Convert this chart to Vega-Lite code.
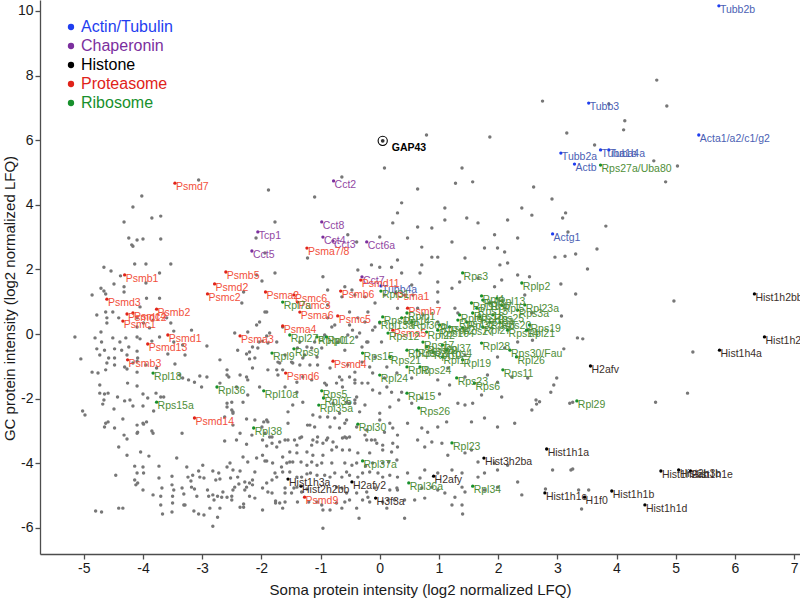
{
"$schema": "https://vega.github.io/schema/vega-lite/v6.json",
"width": 760, "height": 554,
"autosize": {"type": "none"},
"padding": {"left": 40, "top": 0, "right": 0, "bottom": 44},
"background": "white",
"config": {"view": {"stroke": null}, "font": "Liberation Sans"},
"datasets": {
"gray": [
{"x":-4.02,"y":4.27},{"x":-3.06,"y":4.77},{"x":-1.88,"y":4.46},{"x":0.79,"y":6.16},{"x":1.86,"y":6.10},{"x":0.08,"y":5.14},{"x":1.39,"y":5.14},{"x":-0.64,"y":4.86},{"x":1.28,"y":4.67},{"x":1.57,"y":4.71},{"x":0.64,"y":4.49},{"x":-1.10,"y":4.24},{"x":2.60,"y":4.55},{"x":4.68,"y":7.86},{"x":2.75,"y":7.21},{"x":3.87,"y":7.12},{"x":4.85,"y":7.06},{"x":4.14,"y":6.60},{"x":4.12,"y":6.32},{"x":3.16,"y":6.22},{"x":3.63,"y":5.85},{"x":4.63,"y":5.36},{"x":5.03,"y":5.20},{"x":4.83,"y":4.71},{"x":2.91,"y":4.18},
{"x":3.14,"y":3.75},{"x":3.09,"y":3.59},{"x":3.82,"y":3.34},{"x":3.18,"y":3.16},{"x":2.96,"y":2.38},{"x":3.13,"y":2.41},{"x":3.31,"y":2.48},{"x":3.67,"y":2.63},{"x":3.51,"y":2.01},{"x":3.06,"y":1.55},{"x":3.31,"y":1.24},{"x":4.97,"y":1.02},{"x":3.07,"y":0.56},{"x":3.34,"y":-0.12},{"x":3.43,"y":-0.15},{"x":2.58,"y":-0.19},{"x":3.11,"y":-0.46},{"x":5.29,"y":-0.56},{"x":2.99,"y":-1.36},{"x":2.94,"y":-1.58},{"x":2.89,"y":-1.80},{"x":5.20,"y":-1.83},
{"x":2.64,"y":-2.04},{"x":2.65,"y":-2.17},{"x":2.70,"y":-2.10},{"x":3.21,"y":-2.14},{"x":3.26,"y":-2.11},{"x":4.66,"y":-2.11},{"x":2.92,"y":-4.21},{"x":3.23,"y":-4.21},{"x":3.26,"y":-4.18},{"x":2.80,"y":-4.80},{"x":3.36,"y":-4.83},{"x":3.53,"y":-4.83},{"x":3.41,"y":-5.42},
{"x":-4.17,"y":3.93},{"x":-3.85,"y":3.59},{"x":-3.70,"y":3.65},{"x":-4.32,"y":3.47},{"x":-4.24,"y":2.97},{"x":-4.19,"y":2.76},{"x":-4.17,"y":2.72},{"x":-4.10,"y":2.91},{"x":-4.00,"y":2.94},{"x":-3.70,"y":2.94},{"x":-4.14,"y":2.17},{"x":-3.95,"y":2.17},{"x":-3.72,"y":1.89},{"x":-3.53,"y":2.17},{"x":-4.66,"y":2.07},{"x":-4.54,"y":1.95},{"x":-4.38,"y":1.80},{"x":-4.49,"y":1.55},{"x":-4.32,"y":1.46},{"x":-4.86,"y":1.21},{"x":-4.71,"y":1.42},{"x":-4.66,"y":1.33},{"x":-4.63,"y":1.24},{"x":-4.32,"y":1.30},{"x":-3.95,"y":1.58},{"x":-3.94,"y":1.11},{"x":-3.72,"y":1.11},{"x":-4.05,"y":0.84},{"x":-4.51,"y":0.68},{"x":-4.78,"y":0.59},{"x":-4.63,"y":0.68},{"x":-4.61,"y":0.50},{"x":-4.41,"y":0.50},{"x":-4.10,"y":0.50},{"x":-3.99,"y":0.34},{"x":-3.83,"y":0.43},{"x":-3.60,"y":0.50},{"x":-4.61,"y":0.34},{"x":-4.71,"y":0.06},{"x":-4.10,"y":0.22},{"x":-3.89,"y":0.19},{"x":-3.53,"y":0.34},{"x":-3.48,"y":0.09},{"x":-3.18,"y":0.12},{"x":-5.15,"y":-0.09},{"x":-4.81,"y":-0.12},{"x":-4.70,"y":-0.25},{"x":-4.51,"y":-0.12},{"x":-4.39,"y":-0.25},{"x":-4.29,"y":-0.12},{"x":-4.10,"y":-0.09},{"x":-4.05,"y":-0.15},{"x":-3.85,"y":-0.22},{"x":-3.72,"y":-0.09},{"x":-3.48,"y":-0.25},{"x":-3.33,"y":-0.34},{"x":-4.78,"y":-0.46},{"x":-4.65,"y":-0.50},{"x":-4.48,"y":-0.46},{"x":-4.36,"y":-0.50},{"x":-4.24,"y":-0.40},{"x":-4.10,"y":-0.53},{"x":-4.48,"y":-0.74},{"x":-4.58,"y":-0.74},{"x":-4.73,"y":-0.65},{"x":-4.27,"y":-0.65},{"x":-5.05,"y":-0.77},{"x":-4.09,"y":-0.74},{"x":-3.58,"y":-0.62},{"x":-2.92,"y":-0.37},{"x":-3.29,"y":-0.65},{"x":-4.61,"y":-0.90},{"x":-4.48,"y":-0.96},{"x":-4.31,"y":-1.02},{"x":-4.17,"y":-0.90},{"x":-4.10,"y":-0.84},{"x":-3.95,"y":-0.96},{"x":-3.77,"y":-1.05},{"x":-3.46,"y":-0.93},{"x":-3.04,"y":-1.30},{"x":-4.86,"y":-1.18},{"x":-4.76,"y":-1.21},{"x":-4.63,"y":-1.11},{"x":-4.27,"y":-1.08},{"x":-4.10,"y":-1.18},{"x":-3.38,"y":-1.27},{"x":-3.33,"y":-1.36},{"x":-3.23,"y":-1.42},{"x":-3.13,"y":-1.49},{"x":-4.73,"y":-1.58},{"x":-4.26,"y":-1.52},{"x":-4.10,"y":-1.61},{"x":-2.55,"y":-1.33},{"x":-2.36,"y":-1.27},{"x":-2.25,"y":-1.33},{"x":-2.15,"y":-1.05},{"x":-2.11,"y":-0.74},{"x":-2.25,"y":-0.62},{"x":-2.40,"y":-0.50},{"x":-2.45,"y":0.03},{"x":-2.23,"y":0.06},{"x":-2.04,"y":-0.25},{"x":-1.91,"y":-0.06},{"x":-1.94,"y":0.68},{"x":-2.03,"y":0.37},{"x":-2.33,"y":0.96},{"x":-2.30,"y":1.30},{"x":-2.08,"y":1.83},{"x":-1.99,"y":1.64},{"x":-2.09,"y":2.97},{"x":-1.94,"y":2.51},
{"x":-4.73,"y":-1.83},{"x":-4.65,"y":-1.86},{"x":-4.59,"y":-1.83},{"x":-4.66,"y":-2.04},{"x":-4.68,"y":-2.17},{"x":-4.43,"y":-1.95},{"x":-4.31,"y":-2.07},{"x":-4.22,"y":-2.04},{"x":-4.17,"y":-2.23},{"x":-4.00,"y":-1.86},{"x":-4.00,"y":-2.23},{"x":-3.92,"y":-1.98},{"x":-3.82,"y":-2.38},{"x":-3.78,"y":-1.83},{"x":-3.70,"y":-1.95},{"x":-3.65,"y":-1.95},{"x":-5.02,"y":-2.38},{"x":-4.98,"y":-2.51},{"x":-4.49,"y":-2.32},{"x":-4.34,"y":-2.63},{"x":-4.59,"y":-2.72},{"x":-4.65,"y":-2.88},{"x":-4.63,"y":-2.76},{"x":-4.48,"y":-2.91},{"x":-4.41,"y":-3.50},{"x":-4.32,"y":-3.13},{"x":-4.27,"y":-3.25},{"x":-4.27,"y":-3.75},{"x":-4.10,"y":-2.82},{"x":-4.10,"y":-3.07},{"x":-4.09,"y":-3.04},{"x":-4.00,"y":-2.76},{"x":-3.99,"y":-2.79},{"x":-3.94,"y":-2.72},{"x":-3.85,"y":-3.00},{"x":-3.83,"y":-3.07},{"x":-3.34,"y":-3.07},{"x":-4.04,"y":-3.65},{"x":-3.90,"y":-3.78},{"x":-4.14,"y":-4.09},{"x":-4.10,"y":-4.30},{"x":-4.00,"y":-4.12},{"x":-3.99,"y":-4.30},{"x":-4.14,"y":-4.52},{"x":-4.09,"y":-4.61},{"x":-4.12,"y":-4.67},{"x":-4.00,"y":-4.83},{"x":-4.46,"y":-4.37},{"x":-3.73,"y":-4.09},{"x":-3.73,"y":-4.46},{"x":-3.68,"y":-4.77},{"x":-3.83,"y":-4.98},{"x":-3.43,"y":-3.84},{"x":-3.51,"y":-4.40},{"x":-3.51,"y":-4.67},{"x":-3.48,"y":-4.83},{"x":-3.50,"y":-5.02},{"x":-3.50,"y":-5.23},{"x":-3.34,"y":-4.77},{"x":-3.31,"y":-4.95},{"x":-3.31,"y":-5.29},{"x":-3.24,"y":-4.43},{"x":-3.19,"y":-4.55},{"x":-3.16,"y":-4.37},{"x":-3.13,"y":-4.80},{"x":-3.09,"y":-5.02},{"x":-3.04,"y":-4.43},{"x":-3.06,"y":-4.24},{"x":-2.99,"y":-4.06},{"x":-3.26,"y":-4.12},{"x":-3.18,"y":-4.74},{"x":-3.70,"y":-5.02},{"x":-3.70,"y":-5.29},{"x":-3.51,"y":-5.51},{"x":-3.67,"y":-5.57},{"x":-3.29,"y":-5.29},{"x":-3.14,"y":-5.48},{"x":-3.06,"y":-5.57},{"x":-2.97,"y":-5.60},{"x":-2.91,"y":-4.83},{"x":-2.89,"y":-5.02},{"x":-2.97,"y":-4.46},{"x":-2.82,"y":-4.24},{"x":-2.72,"y":-4.30},{"x":-2.77,"y":-4.52},{"x":-2.82,"y":-4.98},{"x":-2.74,"y":-5.02},{"x":-2.65,"y":-4.89},{"x":-2.67,"y":-5.05},{"x":-2.58,"y":-5.05},{"x":-2.50,"y":-5.02},{"x":-2.48,"y":-4.83},{"x":-2.45,"y":-4.74},{"x":-2.52,"y":-4.46},{"x":-2.40,"y":-4.43},{"x":-2.38,"y":-4.64},{"x":-2.28,"y":-4.58},{"x":-2.25,"y":-4.74},{"x":-2.20,"y":-4.61},{"x":-2.15,"y":-4.52},{"x":-2.11,"y":-4.27},{"x":-2.23,"y":-3.96},{"x":-2.36,"y":-4.24},{"x":-2.48,"y":-4.21},{"x":-2.53,"y":-3.99},{"x":-2.58,"y":-4.12},{"x":-2.70,"y":-4.49},{"x":-2.80,"y":-5.14},{"x":-2.70,"y":-5.39},{"x":-2.50,"y":-5.14},{"x":-2.36,"y":-5.36},{"x":-2.30,"y":-5.36},{"x":-2.28,"y":-4.83},{"x":-2.20,"y":-5.02},{"x":-2.11,"y":-5.08},{"x":-2.15,"y":-4.67},{"x":-2.87,"y":-5.39},{"x":-2.74,"y":-5.67},{"x":-2.82,"y":-5.95},{"x":-4.80,"y":-5.48},{"x":-4.70,"y":-5.51},{"x":-4.41,"y":-5.39},{"x":-4.34,"y":-5.39},{"x":-2.58,"y":-2.14},{"x":-2.48,"y":-2.45},{"x":-2.48,"y":-2.82},{"x":-2.25,"y":-2.63},{"x":-2.11,"y":-2.66},{"x":-1.96,"y":-2.72},{"x":-1.94,"y":-3.07},{"x":-2.16,"y":-3.13},{"x":-2.42,"y":-3.28},{"x":-2.62,"y":-3.31},{"x":-2.25,"y":-3.41},{"x":-1.98,"y":-3.28},{"x":-1.91,"y":-3.47},{"x":-1.98,"y":-3.75},{"x":-2.08,"y":-3.84},{"x":-1.91,"y":-3.93},{"x":-2.30,"y":-5.26},{"x":-1.98,"y":-5.45},{"x":-2.62,"y":-2.57},{"x":-2.31,"y":-3.81},
{"x":-1.82,"y":-3.38},{"x":-1.94,"y":-3.93},{"x":-1.81,"y":-3.99},{"x":-1.66,"y":-4.12},{"x":-1.57,"y":-3.99},{"x":-1.52,"y":-3.96},{"x":-1.52,"y":-4.27},{"x":-1.64,"y":-4.27},{"x":-1.77,"y":-4.30},{"x":-1.74,"y":-4.43},{"x":-1.82,"y":-4.52},{"x":-1.91,"y":-4.61},{"x":-1.98,"y":-4.77},{"x":-1.89,"y":-4.89},{"x":-1.82,"y":-4.92},{"x":-1.76,"y":-5.17},{"x":-1.76,"y":-5.23},{"x":-1.69,"y":-5.23},{"x":-1.60,"y":-4.92},{"x":-1.60,"y":-5.20},{"x":-1.64,"y":-5.39},{"x":-1.60,"y":-4.77},{"x":-1.45,"y":-4.77},{"x":-1.49,"y":-4.92},{"x":-1.40,"y":-4.74},{"x":-1.32,"y":-4.89},{"x":-1.23,"y":-4.80},{"x":-1.39,"y":-5.20},{"x":-1.20,"y":-5.20},{"x":-1.06,"y":-5.20},{"x":-0.98,"y":-5.29},{"x":-0.96,"y":-5.45},{"x":-0.96,"y":-6.01},{"x":-0.84,"y":-5.45},{"x":-0.73,"y":-5.23},{"x":-0.64,"y":-5.39},{"x":-0.59,"y":-5.20},{"x":-0.51,"y":-5.14},{"x":-0.35,"y":-5.70},{"x":-0.39,"y":-5.39},{"x":-0.29,"y":-5.14},{"x":-0.20,"y":-5.05},{"x":-0.17,"y":-5.20},{"x":0.05,"y":-5.20},{"x":0.14,"y":-5.14},{"x":0.25,"y":-5.14},{"x":0.12,"y":-5.39},{"x":-1.40,"y":-4.43},{"x":-1.32,"y":-4.43},{"x":-1.23,"y":-4.33},{"x":-1.17,"y":-4.30},{"x":-1.06,"y":-4.37},{"x":-0.93,"y":-4.37},{"x":-0.84,"y":-4.43},{"x":-0.76,"y":-4.30},{"x":-0.64,"y":-4.43},{"x":-0.56,"y":-4.27},{"x":-0.51,"y":-4.37},{"x":-0.37,"y":-4.43},{"x":-0.29,"y":-4.30},{"x":-0.17,"y":-4.27},{"x":-0.03,"y":-4.30},{"x":0.05,"y":-4.43},{"x":0.17,"y":-4.37},{"x":0.30,"y":-4.43},{"x":-0.73,"y":-4.74},{"x":-0.64,"y":-4.77},{"x":-0.56,"y":-4.92},{"x":-0.39,"y":-4.92},{"x":-0.22,"y":-4.89},{"x":-0.08,"y":-4.77},{"x":0.17,"y":-4.83},{"x":0.29,"y":-4.77},{"x":-1.47,"y":-3.96},{"x":-1.33,"y":-3.96},{"x":-1.23,"y":-4.06},{"x":-1.15,"y":-3.96},{"x":-1.06,"y":-4.06},{"x":-0.98,"y":-3.99},{"x":-0.81,"y":-3.99},{"x":-0.59,"y":-3.99},{"x":-0.47,"y":-4.06},{"x":-0.39,"y":-3.99},{"x":-0.24,"y":-4.09},{"x":-0.12,"y":-3.99},{"x":0.05,"y":-3.99},{"x":0.15,"y":-3.96},{"x":0.29,"y":-3.90},{"x":-1.64,"y":-3.81},{"x":-1.52,"y":-3.65},{"x":-1.40,"y":-3.68},{"x":-1.23,"y":-3.65},{"x":-1.13,"y":-3.75},{"x":-0.96,"y":-3.75},{"x":-0.81,"y":-3.59},{"x":-0.73,"y":-3.50},{"x":-0.63,"y":-3.59},{"x":-0.51,"y":-3.59},{"x":-0.37,"y":-3.68},{"x":-0.17,"y":-3.68},{"x":0.05,"y":-3.59},{"x":0.20,"y":-3.65},{"x":0.30,"y":-3.50},{"x":-1.69,"y":-3.34},{"x":-1.55,"y":-3.28},{"x":-1.32,"y":-3.19},{"x":-1.15,"y":-3.44},{"x":-1.06,"y":-3.34},{"x":-0.96,"y":-3.38},{"x":-0.79,"y":-3.34},{"x":-0.63,"y":-3.22},{"x":-0.51,"y":-3.19},{"x":-0.22,"y":-3.28},{"x":-0.05,"y":-3.38},{"x":0.05,"y":-3.44},{"x":0.22,"y":-3.38},{"x":-1.40,"y":-3.44},
{"x":0.37,"y":-1.80},{"x":0.54,"y":-2.14},{"x":0.71,"y":-1.98},{"x":1.01,"y":-1.86},{"x":1.32,"y":-2.14},{"x":1.44,"y":-2.20},{"x":1.57,"y":-2.14},{"x":2.06,"y":-1.95},{"x":1.72,"y":-1.89},{"x":0.47,"y":-2.76},{"x":0.71,"y":-2.91},{"x":0.81,"y":-3.04},{"x":0.98,"y":-2.88},{"x":1.13,"y":-2.72},{"x":1.55,"y":-2.72},{"x":1.77,"y":-2.60},{"x":1.99,"y":-2.88},{"x":2.28,"y":-2.76},{"x":2.57,"y":-2.35},{"x":0.64,"y":-3.28},{"x":0.76,"y":-3.50},{"x":0.88,"y":-3.34},{"x":1.05,"y":-3.38},{"x":1.15,"y":-3.75},{"x":1.44,"y":-3.68},{"x":1.55,"y":-3.59},{"x":1.66,"y":-3.96},{"x":1.94,"y":-3.99},{"x":1.99,"y":-4.21},{"x":2.16,"y":-4.06},{"x":2.33,"y":-4.58},{"x":1.77,"y":-4.30},{"x":1.66,"y":-4.43},{"x":1.39,"y":-4.30},{"x":1.22,"y":-4.21},{"x":0.98,"y":-4.30},{"x":0.76,"y":-4.21},{"x":0.68,"y":-4.46},{"x":0.71,"y":-4.77},{"x":0.88,"y":-4.74},{"x":0.98,"y":-4.83},{"x":1.10,"y":-4.92},{"x":1.39,"y":-4.74},{"x":1.44,"y":-4.89},{"x":1.27,"y":-5.05},{"x":1.39,"y":-5.29},{"x":1.22,"y":-5.29},{"x":0.76,"y":-5.08},{"x":0.42,"y":-5.70},{"x":1.40,"y":-5.57},{"x":2.40,"y":-4.98},{"x":1.77,"y":-4.83},{"x":1.99,"y":-4.74},{"x":0.42,"y":-5.14},{"x":0.59,"y":-5.14},{"x":0.30,"y":-4.83},{"x":0.47,"y":-4.30},
{"x":-1.89,"y":-2.72},{"x":-1.82,"y":-3.19},{"x":-1.55,"y":-2.76},{"x":-1.30,"y":-2.11},{"x":-1.22,"y":-2.82},{"x":-1.13,"y":-2.51},{"x":-0.84,"y":-2.88},{"x":-0.76,"y":-2.60},{"x":-0.68,"y":-2.91},{"x":-0.59,"y":-2.76},{"x":-0.51,"y":-2.14},{"x":-0.42,"y":-2.04},{"x":-0.25,"y":-2.20},{"x":-0.25,"y":-3.13},{"x":-0.08,"y":-3.28},{"x":0.00,"y":-2.66},{"x":0.08,"y":-3.04},{"x":0.17,"y":-2.76},{"x":0.22,"y":-2.91},{"x":0.30,"y":-3.13},{"x":-1.05,"y":-3.19},{"x":-0.88,"y":-3.22},{"x":-0.59,"y":-3.19},{"x":-1.35,"y":-3.22},{"x":-1.60,"y":-3.28},{"x":0.20,"y":-1.80},
{"x":-2.20,"y":-0.56},{"x":-2.15,"y":-0.40},{"x":-2.06,"y":-0.43},{"x":-1.98,"y":-0.22},{"x":-1.86,"y":0.03},{"x":-1.35,"y":-0.25},{"x":-1.23,"y":-0.40},{"x":-1.15,"y":-0.43},{"x":-1.06,"y":-0.71},{"x":-1.30,"y":-0.74},{"x":-1.47,"y":-0.90},{"x":-1.35,"y":-0.96},{"x":-1.69,"y":-0.90},{"x":-1.74,"y":-1.11},{"x":-1.64,"y":-1.11},{"x":-2.23,"y":-1.42},{"x":-2.58,"y":-1.27},{"x":-2.70,"y":-1.52},{"x":-2.42,"y":-1.64},{"x":-2.50,"y":-2.11},{"x":-2.58,"y":-2.26},{"x":-2.48,"y":-2.41},{"x":-2.31,"y":-2.11},{"x":-2.23,"y":-1.89},{"x":-2.03,"y":-1.64},{"x":-1.60,"y":-1.64},{"x":-1.40,"y":-1.80},{"x":-1.47,"y":-2.20},{"x":-1.55,"y":-2.41},{"x":-1.91,"y":-2.66},{"x":-1.99,"y":-2.88},{"x":-1.18,"y":-2.82},{"x":-1.10,"y":-2.88},{"x":-2.36,"y":-3.07},{"x":-1.86,"y":-3.19},{"x":-1.74,"y":-3.50},{"x":-1.44,"y":-3.28},{"x":-1.01,"y":-2.57},{"x":-0.88,"y":-2.57},{"x":-0.79,"y":-2.14},{"x":-0.68,"y":-2.45},{"x":-0.56,"y":-2.11},{"x":-0.42,"y":-2.14},{"x":-0.34,"y":-2.41},{"x":-0.39,"y":-1.95},{"x":-0.63,"y":-1.64},{"x":-0.73,"y":-1.52},{"x":-0.90,"y":-1.58},{"x":-0.68,"y":-1.33},{"x":-0.51,"y":-1.33},{"x":-0.42,"y":-1.42},{"x":-0.30,"y":-1.52},{"x":-0.12,"y":-1.73},{"x":0.00,"y":-1.83},{"x":0.12,"y":-1.64},{"x":0.08,"y":-1.36},{"x":-0.12,"y":-1.21},{"x":-0.17,"y":-1.02},{"x":-0.08,"y":-0.71},{"x":0.12,"y":-1.02},{"x":0.29,"y":-1.21},{"x":0.32,"y":-2.04},{"x":0.17,"y":-2.26},{"x":0.00,"y":-2.45},{"x":-0.56,"y":-2.66},{"x":-0.39,"y":-2.88},{"x":-0.22,"y":-2.97},{"x":-0.14,"y":-3.28},{"x":-0.56,"y":-3.22},{"x":-0.90,"y":-3.28},{"x":-1.13,"y":-3.28},{"x":-0.76,"y":0.28},{"x":-0.51,"y":0.28},{"x":-0.46,"y":0.12},{"x":-0.34,"y":0.03},{"x":-0.22,"y":-0.25},{"x":-0.12,"y":0.12},{"x":0.00,"y":0.34},{"x":-2.08,"y":0.28},{"x":-1.64,"y":0.22},{"x":-2.92,"y":-1.33},{"x":-3.01,"y":-1.64},{"x":-2.70,"y":-0.80},{"x":-2.20,"y":-0.77},{"x":-2.58,"y":-1.11},{"x":-2.50,"y":-2.35},
{"x":0.37,"y":4.06},{"x":1.47,"y":3.59},{"x":0.30,"y":3.75},{"x":1.10,"y":3.90},{"x":-1.77,"y":3.47},{"x":0.22,"y":3.44},{"x":0.88,"y":3.28},{"x":0.00,"y":3.00},{"x":-0.39,"y":2.85},{"x":-0.54,"y":3.07},{"x":1.77,"y":2.66},{"x":0.98,"y":2.38},{"x":1.99,"y":2.66},{"x":0.30,"y":2.29},{"x":-0.14,"y":2.14},{"x":0.20,"y":2.07},{"x":0.00,"y":2.07},{"x":0.71,"y":2.14},{"x":0.88,"y":2.38},{"x":-1.22,"y":2.35},{"x":-1.77,"y":1.89},{"x":-0.96,"y":1.77},{"x":-0.37,"y":1.98},{"x":0.37,"y":1.89},{"x":0.68,"y":1.89},{"x":0.98,"y":1.61},{"x":0.54,"y":1.52},{"x":2.03,"y":2.14},{"x":2.16,"y":2.20},{"x":2.06,"y":1.67},{"x":1.94,"y":1.46},{"x":1.35,"y":1.61},{"x":1.66,"y":1.73},{"x":0.42,"y":1.21},{"x":0.98,"y":1.30},{"x":1.22,"y":1.42},{"x":-0.59,"y":1.46},{"x":-0.47,"y":1.36},{"x":-0.64,"y":1.15},{"x":-0.42,"y":1.21},{"x":-0.25,"y":1.15},{"x":0.08,"y":1.21},{"x":-0.88,"y":1.36},{"x":-0.88,"y":0.90},{"x":-0.08,"y":0.96},{"x":0.30,"y":0.80},{"x":0.56,"y":1.21},{"x":0.64,"y":0.80},{"x":0.98,"y":0.99},{"x":1.27,"y":0.80},{"x":-1.91,"y":0.68},{"x":-0.51,"y":0.68},{"x":-0.37,"y":0.50},{"x":-0.25,"y":0.37},{"x":-0.20,"y":0.68},{"x":0.73,"y":0.59},{"x":0.98,"y":0.37},{"x":1.32,"y":0.65},{"x":-0.88,"y":0.50},{"x":-0.81,"y":0.22},{"x":-0.54,"y":-0.03},{"x":-0.39,"y":-0.09},{"x":-0.08,"y":0.22},{"x":-0.20,"y":-0.25},{"x":0.03,"y":-0.25},{"x":-0.93,"y":-0.03},{"x":-1.10,"y":-0.25},{"x":-0.71,"y":-0.25},{"x":-0.98,"y":-0.43},{"x":-0.59,"y":-0.50},{"x":-0.30,"y":-0.40},{"x":-1.39,"y":-0.43},{"x":-1.27,"y":-0.65},{"x":-1.60,"y":-0.65},{"x":-1.74,"y":-0.25},{"x":-1.89,"y":-0.28},{"x":-1.72,"y":-0.87},{"x":-1.49,"y":-0.87},{"x":-1.18,"y":-0.96},{"x":-1.05,"y":-0.96},{"x":-0.84,"y":-1.05},{"x":-0.54,"y":-0.96},{"x":-0.42,"y":-1.18},{"x":-0.30,"y":-0.87},{"x":-1.89,"y":-1.11},{"x":-1.72,"y":-1.27},{"x":-1.40,"y":-1.49},{"x":-1.30,"y":-1.33},{"x":-1.15,"y":-1.42},{"x":-0.93,"y":-1.52},{"x":-0.64,"y":-1.42},{"x":-0.42,"y":-1.52},{"x":-0.20,"y":-1.52},{"x":0.54,"y":-1.36},{"x":0.98,"y":-1.42},{"x":1.18,"y":-1.58},{"x":1.44,"y":-1.33},{"x":1.82,"y":-1.27},{"x":1.99,"y":-1.49},{"x":2.23,"y":-1.33},{"x":2.50,"y":-1.36},{"x":1.44,"y":-0.65},{"x":1.15,"y":-1.05},{"x":1.99,"y":-0.71},{"x":2.11,"y":-0.43},{"x":2.33,"y":-0.25},{"x":2.50,"y":0.12},{"x":2.57,"y":0.65},{"x":2.45,"y":1.21},{"x":2.53,"y":1.77},{"x":2.33,"y":1.83},{"x":2.11,"y":2.54},{"x":2.33,"y":2.97},{"x":1.94,"y":3.07},{"x":2.57,"y":3.68},{"x":2.40,"y":3.90},{"x":2.16,"y":3.53},{"x":1.66,"y":3.44},{"x":1.10,"y":3.53},{"x":0.64,"y":3.31},{"x":0.47,"y":2.97},{"x":0.71,"y":2.69},{"x":1.22,"y":2.85},{"x":1.44,"y":2.35}
],
"labeled": [
{"gene":"Tubb2b","cat":"Actin/Tubulin","x":5.73,"y":10.16},
{"gene":"Tubb3","cat":"Actin/Tubulin","x":3.53,"y":7.15},
{"gene":"Acta1/a2/c1/g2","cat":"Actin/Tubulin","x":5.39,"y":6.16},
{"gene":"Tubb2a","cat":"Actin/Tubulin","x":3.06,"y":5.60},
{"gene":"Actb","cat":"Actin/Tubulin","x":3.29,"y":5.26},
{"gene":"Tuba1b","cat":"Actin/Tubulin","x":3.73,"y":5.70},
{"gene":"Tuba4a","cat":"Actin/Tubulin","x":3.87,"y":5.70},
{"gene":"Actg1","cat":"Actin/Tubulin","x":2.92,"y":3.10},
{"gene":"Tubb4a","cat":"Actin/Tubulin","x":0.02,"y":1.49},
{"gene":"Cct2","cat":"Chaperonin","x":-0.78,"y":4.74},
{"gene":"Tcp1","cat":"Chaperonin","x":-2.06,"y":3.16},
{"gene":"Cct5","cat":"Chaperonin","x":-2.16,"y":2.57},
{"gene":"Cct8","cat":"Chaperonin","x":-0.98,"y":3.47},
{"gene":"Cct4","cat":"Chaperonin","x":-0.96,"y":3.00},
{"gene":"Cct3","cat":"Chaperonin","x":-0.79,"y":2.88},
{"gene":"Cct6a","cat":"Chaperonin","x":-0.22,"y":2.85},
{"gene":"Cct7","cat":"Chaperonin","x":-0.30,"y":1.77},
{"gene":"Hist1h2bb","cat":"Histone","x":6.33,"y":1.24},
{"gene":"Hist1h2bc","cat":"Histone","x":6.50,"y":-0.09},
{"gene":"Hist1h4a","cat":"Histone","x":5.74,"y":-0.50},
{"gene":"H2afv","cat":"Histone","x":3.56,"y":-0.99},
{"gene":"Hist1h1a","cat":"Histone","x":2.82,"y":-3.56},
{"gene":"Hist1h2ab","cat":"Histone","x":4.75,"y":-4.24},
{"gene":"Hist2h3b","cat":"Histone","x":5.05,"y":-4.21},
{"gene":"Hist1h1e","cat":"Histone","x":5.25,"y":-4.24},
{"gene":"Hist1h1c","cat":"Histone","x":2.79,"y":-4.92},
{"gene":"H1f0","cat":"Histone","x":3.46,"y":-5.05},
{"gene":"Hist1h1b","cat":"Histone","x":3.92,"y":-4.86},
{"gene":"Hist1h1d","cat":"Histone","x":4.48,"y":-5.29},
{"gene":"Hist3h2ba","cat":"Histone","x":1.76,"y":-3.84},
{"gene":"H2afy","cat":"Histone","x":0.91,"y":-4.40},
{"gene":"H2afy2","cat":"Histone","x":-0.47,"y":-4.58},
{"gene":"H3f3a","cat":"Histone","x":-0.07,"y":-5.08},
{"gene":"Hist1h3a","cat":"Histone","x":-1.55,"y":-4.49},
{"gene":"Hist2h2bb","cat":"Histone","x":-1.33,"y":-4.71},
{"gene":"Psmd7","cat":"Proteasome","x":-3.46,"y":4.67},
{"gene":"Psmb1","cat":"Proteasome","x":-4.31,"y":1.83},
{"gene":"Psmd3","cat":"Proteasome","x":-4.61,"y":1.08},
{"gene":"Psmb2","cat":"Proteasome","x":-3.77,"y":0.77},
{"gene":"Psmd12","cat":"Proteasome","x":-4.27,"y":0.62},
{"gene":"Psmc4","cat":"Proteasome","x":-4.17,"y":0.65},
{"gene":"Psmc1","cat":"Proteasome","x":-4.34,"y":0.40},
{"gene":"Psmd1","cat":"Proteasome","x":-3.58,"y":-0.03},
{"gene":"Psmd13","cat":"Proteasome","x":-3.92,"y":-0.31},
{"gene":"Psmb3","cat":"Proteasome","x":-4.26,"y":-0.80},
{"gene":"Psmb5","cat":"Proteasome","x":-2.60,"y":1.92},
{"gene":"Psmd2","cat":"Proteasome","x":-2.79,"y":1.55},
{"gene":"Psmc2","cat":"Proteasome","x":-2.91,"y":1.24},
{"gene":"Psma3","cat":"Proteasome","x":-2.36,"y":-0.06},
{"gene":"Psma7/8","cat":"Proteasome","x":-1.23,"y":2.66},
{"gene":"Psma2","cat":"Proteasome","x":-1.93,"y":1.30},
{"gene":"Psmc6","cat":"Proteasome","x":-1.45,"y":1.21},
{"gene":"Psmc3","cat":"Proteasome","x":-1.39,"y":0.99},
{"gene":"Psma6","cat":"Proteasome","x":-1.35,"y":0.68},
{"gene":"Psmc5","cat":"Proteasome","x":-0.71,"y":0.56},
{"gene":"Psmb6","cat":"Proteasome","x":-0.66,"y":1.33},
{"gene":"Psmd11","cat":"Proteasome","x":-0.32,"y":1.67},
{"gene":"Psma1","cat":"Proteasome","x":0.27,"y":1.27},
{"gene":"Psmb7","cat":"Proteasome","x":0.47,"y":0.80},
{"gene":"Psma5","cat":"Proteasome","x":0.22,"y":0.12},
{"gene":"Psma4","cat":"Proteasome","x":-1.64,"y":0.25},
{"gene":"Psmd4","cat":"Proteasome","x":-0.79,"y":-0.84},
{"gene":"Psmd6","cat":"Proteasome","x":-1.59,"y":-1.21},
{"gene":"Psmd14","cat":"Proteasome","x":-3.13,"y":-2.60},
{"gene":"Psmd9","cat":"Proteasome","x":-1.27,"y":-5.05},
{"gene":"Rps27a/Uba80","cat":"Ribosome","x":3.73,"y":5.23},
{"gene":"Rpl18","cat":"Ribosome","x":-3.83,"y":-1.21},
{"gene":"Rps15a","cat":"Ribosome","x":-3.77,"y":-2.11},
{"gene":"Rpl36","cat":"Ribosome","x":-2.75,"y":-1.64},
{"gene":"Rpl9","cat":"Ribosome","x":-1.82,"y":-0.59},
{"gene":"Rpl10a","cat":"Ribosome","x":-1.96,"y":-1.76},
{"gene":"Rpl38","cat":"Ribosome","x":-2.13,"y":-2.91},
{"gene":"Rpl7a","cat":"Ribosome","x":-1.64,"y":0.99},
{"gene":"Rpl27a","cat":"Ribosome","x":-1.52,"y":-0.03},
{"gene":"Rps9","cat":"Ribosome","x":-1.45,"y":-0.46},
{"gene":"Rplp0","cat":"Ribosome","x":-1.06,"y":-0.09},
{"gene":"Rpl12","cat":"Ribosome","x":-0.90,"y":-0.09},
{"gene":"Rps5","cat":"Ribosome","x":-0.98,"y":-1.76},
{"gene":"Rpl35","cat":"Ribosome","x":-0.95,"y":-1.98},
{"gene":"Rpl35a","cat":"Ribosome","x":-1.03,"y":-2.20},
{"gene":"Rpl30","cat":"Ribosome","x":-0.37,"y":-2.79},
{"gene":"Rpl37a","cat":"Ribosome","x":-0.29,"y":-3.93},
{"gene":"Rpl36a","cat":"Ribosome","x":0.49,"y":-4.61},
{"gene":"Rpl34","cat":"Ribosome","x":1.57,"y":-4.71},
{"gene":"Rpl23","cat":"Ribosome","x":1.22,"y":-3.37},
{"gene":"Rpl15","cat":"Ribosome","x":0.46,"y":-1.83},
{"gene":"Rps26","cat":"Ribosome","x":0.66,"y":-2.29},
{"gene":"Rpl29","cat":"Ribosome","x":3.33,"y":-2.07},
{"gene":"Rps3","cat":"Ribosome","x":1.40,"y":1.89},
{"gene":"Rplp2","cat":"Ribosome","x":2.40,"y":1.58},
{"gene":"Rpl13","cat":"Ribosome","x":1.98,"y":1.11},
{"gene":"Rpl4","cat":"Ribosome","x":1.72,"y":1.18},
{"gene":"Rpl3","cat":"Ribosome","x":1.74,"y":1.05},
{"gene":"Rpl11","cat":"Ribosome","x":1.55,"y":0.96},
{"gene":"Rpl7","cat":"Ribosome","x":1.86,"y":0.96},
{"gene":"Rpl5","cat":"Ribosome","x":2.06,"y":0.90},
{"gene":"Rpl23a","cat":"Ribosome","x":2.45,"y":0.90},
{"gene":"Rps3a","cat":"Ribosome","x":2.33,"y":0.74},
{"gene":"Rps13","cat":"Ribosome","x":1.64,"y":0.80},
{"gene":"Rps18","cat":"Ribosome","x":1.57,"y":0.65},
{"gene":"Rpl18a","cat":"Ribosome","x":1.69,"y":0.53},
{"gene":"Rps25","cat":"Ribosome","x":1.91,"y":0.59},
{"gene":"Rps20","cat":"Ribosome","x":2.03,"y":0.37},
{"gene":"Rpl6","cat":"Ribosome","x":1.35,"y":0.59},
{"gene":"Rps7","cat":"Ribosome","x":1.32,"y":0.43},
{"gene":"Rpl32","cat":"Ribosome","x":1.47,"y":0.37},
{"gene":"Rps8","cat":"Ribosome","x":1.86,"y":0.37},
{"gene":"Rps19","cat":"Ribosome","x":2.53,"y":0.28},
{"gene":"Rps14","cat":"Ribosome","x":2.16,"y":0.12},
{"gene":"Rpl21","cat":"Ribosome","x":2.48,"y":0.12},
{"gene":"Rpl27","cat":"Ribosome","x":1.74,"y":0.22},
{"gene":"Rps27","cat":"Ribosome","x":1.40,"y":0.19},
{"gene":"Rps2","cat":"Ribosome","x":1.18,"y":0.22},
{"gene":"Rpsa","cat":"Ribosome","x":1.01,"y":0.28},
{"gene":"Rps10","cat":"Ribosome","x":0.98,"y":0.12},
{"gene":"Rpl22","cat":"Ribosome","x":0.79,"y":0.06},
{"gene":"Rpl36al","cat":"Ribosome","x":0.54,"y":0.37},
{"gene":"Rpl14","cat":"Ribosome","x":0.37,"y":0.50},
{"gene":"Rps16","cat":"Ribosome","x":0.05,"y":0.53},
{"gene":"Rpl13a","cat":"Ribosome","x":0.00,"y":0.37},
{"gene":"Rps12","cat":"Ribosome","x":0.14,"y":0.03},
{"gene":"Rpl31","cat":"Ribosome","x":0.02,"y":1.33},
{"gene":"Rplp1","cat":"Ribosome","x":0.46,"y":0.65},
{"gene":"Rps17","cat":"Ribosome","x":0.73,"y":-0.25},
{"gene":"Rpl37","cat":"Ribosome","x":1.06,"y":-0.34},
{"gene":"Rps4","cat":"Ribosome","x":1.13,"y":-0.50},
{"gene":"Rpl10","cat":"Ribosome","x":0.90,"y":-0.56},
{"gene":"Rps29","cat":"Ribosome","x":0.79,"y":-0.40},
{"gene":"Rps28","cat":"Ribosome","x":0.63,"y":-0.50},
{"gene":"Rpl39","cat":"Ribosome","x":0.46,"y":-0.50},
{"gene":"Rpl17","cat":"Ribosome","x":1.06,"y":-0.71},
{"gene":"Rpl19","cat":"Ribosome","x":1.40,"y":-0.80},
{"gene":"Rps21","cat":"Ribosome","x":0.17,"y":-0.71},
{"gene":"Rpl8","cat":"Ribosome","x":0.46,"y":-1.02},
{"gene":"Rps24","cat":"Ribosome","x":0.68,"y":-1.02},
{"gene":"Rpl28","cat":"Ribosome","x":1.72,"y":-0.28},
{"gene":"Rps30/Fau","cat":"Ribosome","x":2.20,"y":-0.50},
{"gene":"Rpl26","cat":"Ribosome","x":2.31,"y":-0.71},
{"gene":"Rps11","cat":"Ribosome","x":2.08,"y":-1.11},
{"gene":"Rps23","cat":"Ribosome","x":1.30,"y":-1.36},
{"gene":"Rps6","cat":"Ribosome","x":1.60,"y":-1.52},
{"gene":"Rps15","cat":"Ribosome","x":-0.29,"y":-0.59},
{"gene":"Rpl24","cat":"Ribosome","x":0.00,"y":-1.27}
],
"gap": [{"gene":"GAP43","x":0.05,"y":5.98}]
},
"encoding": {
"x": {"field":"x","type":"quantitative","scale":{"domain":[-5.74,7.1],"nice":false,"zero":false},
 "axis":{"title":"Soma protein intensity (log2 normalized LFQ)","values":[-5,-4,-3,-2,-1,0,1,2,3,4,5,6,7],"labelExpr":"'' + datum.value","grid":false,"domainColor":"#4d4d4d","domainWidth":1.3,"tickColor":"#4d4d4d","tickWidth":1.3,"tickSize":5,"labelFontSize":14,"labelColor":"#1a1a1a","labelPadding":2,"labelFont":"Liberation Sans","titleFont":"Liberation Sans","titleFontSize":15,"titleFontWeight":"normal","titleColor":"#1a1a1a","titleY":40,"titleBaseline":"alphabetic"}},
"y": {"field":"y","type":"quantitative","scale":{"domain":[-6.81,10.34],"nice":false,"zero":false},
 "axis":{"title":"GC protein intensity (log2 normalized LFQ)","values":[-6,-4,-2,0,2,4,6,8,10],"labelExpr":"'' + datum.value","grid":false,"domainColor":"#4d4d4d","domainWidth":1.3,"tickColor":"#4d4d4d","tickWidth":1.3,"tickSize":5,"labelFontSize":14,"labelColor":"#1a1a1a","labelPadding":2,"labelFont":"Liberation Sans","titleFont":"Liberation Sans","titleFontSize":15,"titleFontWeight":"normal","titleColor":"#1a1a1a","titleX":-31,"titleY":298,"titleAngle":270,"titleAlign":"center","titleBaseline":"middle"}}
},
"layer": [
{"data":{"name":"gray"},"mark":{"type":"circle","size":12,"color":"#777777","opacity":1}},
{"data":{"name":"labeled"},"mark":{"type":"circle","size":11,"opacity":1},
 "encoding":{"color":{"field":"cat","type":"nominal","scale":{"domain":["Actin/Tubulin","Chaperonin","Histone","Proteasome","Ribosome"],"range":["#1f3ef0","#7b2f9e","#000000","#e0231a","#17902c"]},
  "legend":{"title":null,"orient":"none","legendX":23,"legendY":19,"padding":0,"symbolType":"circle","symbolSize":40,"symbolStrokeWidth":0,"labelFontSize":16,"labelFont":"Liberation Sans","labelOffset":2,"rowPadding":3,"labelLimit":300,
   "labelColor":{"expr":"scale('color', datum.value)"}}}}},
{"data":{"name":"labeled"},"mark":{"type":"text","align":"left","baseline":"top","dx":1,"dy":-1,"fontSize":10.5,"font":"Liberation Sans"},
 "encoding":{"text":{"field":"gene"},"fill":{"field":"cat","type":"nominal","scale":{"domain":["Actin/Tubulin","Chaperonin","Histone","Proteasome","Ribosome"],"range":["#4b5fb4","#9248a3","#3b2f2a","#f2503b","#4f8e38"]},"legend":null}}},
{"data":{"name":"gap"},"mark":{"type":"point","shape":"circle","size":85,"filled":false,"stroke":"#000000","strokeWidth":1.1,"opacity":1}},
{"data":{"name":"gap"},"mark":{"type":"circle","size":14,"color":"#333333","opacity":1}},
{"data":{"name":"gap"},"mark":{"type":"text","align":"left","baseline":"middle","dx":9,"dy":7,"fontSize":10.5,"fontWeight":"bold","font":"Liberation Sans","color":"#000000"},"encoding":{"text":{"field":"gene"}}}
]
}
